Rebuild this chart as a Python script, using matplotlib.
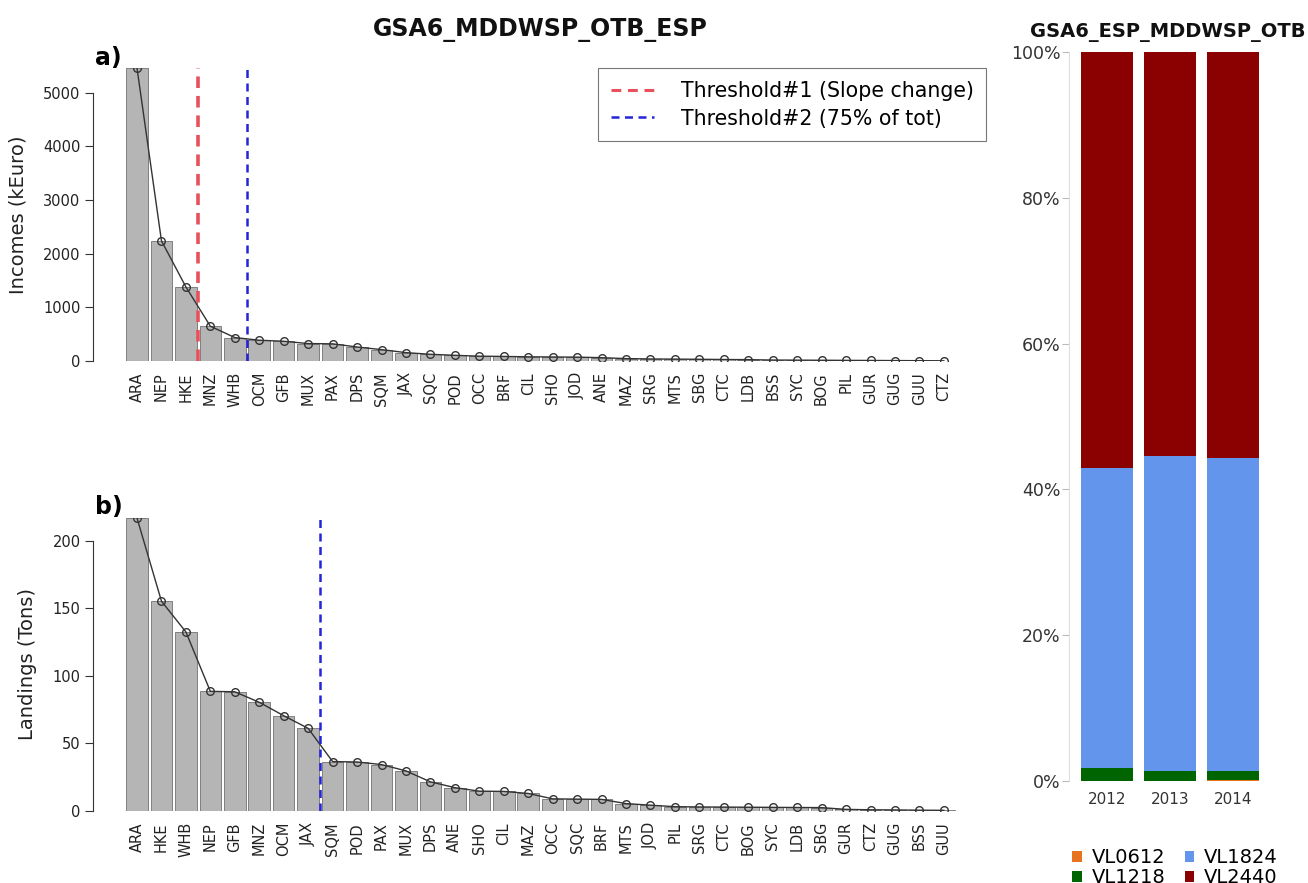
import matplotlib
matplotlib.use("Agg")
import matplotlib.pyplot as plt
from matplotlib.lines import Line2D
from matplotlib.patches import Patch
import numpy as np

plt.rcParams['font.family'] = ['DejaVu Sans']

# ---------------- data ----------------
species_a = ["ARA", "NEP", "HKE", "MNZ", "WHB", "OCM", "GFB", "MUX", "PAX", "DPS",
             "SQM", "JAX", "SQC", "POD", "OCC", "BRF", "CIL", "SHO", "JOD", "ANE",
             "MAZ", "SRG", "MTS", "SBG", "CTC", "LDB", "BSS", "SYC", "BOG", "PIL",
             "GUR", "GUG", "GUU", "CTZ"]
incomes = [5460, 2240, 1380, 648, 437, 387, 368, 325, 320, 261,
           212, 156, 125, 106, 90, 85, 78, 75, 72, 62,
           45, 38, 35, 32, 28, 25, 18, 16, 14, 12,
           10, 8, 6, 4]

species_b = ["ARA", "HKE", "WHB", "NEP", "GFB", "MNZ", "OCM", "JAX", "SQM", "POD",
             "PAX", "MUX", "DPS", "ANE", "SHO", "CIL", "MAZ", "OCC", "SQC", "BRF",
             "MTS", "JOD", "PIL", "SRG", "CTC", "BOG", "SYC", "LDB", "SBG", "GUR",
             "CTZ", "GUG", "BSS", "GUU"]
landings = [217, 155.4, 132.6, 88.6, 88.3, 80.5, 70.6, 61.2, 36.6, 36.3,
            34.4, 29.7, 21.6, 17.3, 14.7, 14.5, 13.0, 9.0, 8.8, 8.6,
            5.5, 4.3, 3.2, 3.0, 2.9, 2.8, 2.7, 2.6, 2.5, 1.2,
            0.9, 0.8, 0.6, 0.5]

thr1_a = 2.5   # slope change (between HKE and MNZ)
thr2_a = 4.5   # 75% of total (between WHB and OCM)
thr2_b = 7.5   # 75% of total (between JAX and SQM)

years = ["2012", "2013", "2014"]
fleet_segments = ["VL0612", "VL1218", "VL1824", "VL2440"]
seg_colors = ["#E8731E", "#006400", "#6495ED", "#8B0000"]
share_VL0612 = [0.03, 0.03, 0.12]
share_VL1218 = [1.75, 1.35, 1.25]
share_VL1824 = [41.2, 43.2, 42.9]
share_VL2440 = [100 - a - b - c for a, b, c in zip(share_VL0612, share_VL1218, share_VL1824)]

# ---------------- figure ----------------
W, H = 1308, 883
fig = plt.figure(figsize=(W / 100, H / 100), dpi=100)


def px_axes(x0, y0, x1, y1):
    """axes from pixel box (left, top, right, bottom)"""
    return fig.add_axes([x0 / W, 1 - y1 / H, (x1 - x0) / W, (y1 - y0) / H])


bar_face = "#b5b5b5"
bar_edge = "#808080"
pitch = 24.45
c0 = 137.0
ax_left_px, ax_right_px = 93, 962
xl = ((ax_left_px - c0) / pitch, (ax_right_px - c0) / pitch)
dash = (0, (3.2, 2.2))


def panel(ax, names, vals, ticks, ylabel, thresholds):
    x = np.arange(len(names))
    ax.bar(x, vals, width=0.88, color=bar_face, edgecolor=bar_edge, linewidth=0.7, zorder=1)
    ax.plot(x, vals, color="#333333", lw=1.0, zorder=3)
    ax.plot(x, vals, linestyle="none", marker="o", ms=5.5, mfc="none", mec="#333333", mew=1.0, zorder=4)
    for xv, col, lw in thresholds:
        ax.axvline(xv, ymin=0, ymax=1, color=col, lw=lw, linestyle=dash, zorder=5)
    ax.set_xlim(*xl)
    ax.set_ylim(0, max(vals))
    ax.set_xticks(x)
    ax.set_xticklabels(names, rotation=90, fontsize=10.5)
    ax.tick_params(axis="x", length=0, pad=8)
    ax.set_yticks(ticks)
    ax.tick_params(axis="y", length=6, width=0.8, colors="#333333", labelsize=10.5, pad=3)
    for s in ["top", "right", "bottom"]:
        ax.spines[s].set_visible(False)
    ax.spines["left"].set_bounds(ticks[0], ticks[-1])
    ax.spines["left"].set_color("#333333")
    ax.spines["left"].set_linewidth(0.8)
    ax.set_ylabel(ylabel, fontsize=14, color="#222222", labelpad=11)
    for lab in ax.get_xticklabels() + ax.get_yticklabels():
        lab.set_color("#222222")


red = "#E8505C"
blue = "#2424D8"

ax_a = px_axes(ax_left_px, 68, ax_right_px, 361)
panel(ax_a, species_a, incomes, [0, 1000, 2000, 3000, 4000, 5000], "Incomes (kEuro)",
      [(thr1_a, red, 2.6), (thr2_a, blue, 1.8)])

handles = [Line2D([0], [0], color=red, lw=2.2, linestyle=dash),
           Line2D([0], [0], color=blue, lw=1.8, linestyle=dash)]
leg = ax_a.legend(handles, ["Threshold#1 (Slope change)", "Threshold#2 (75% of tot)"],
                  loc="upper left", bbox_to_anchor=(598 / W, 1 - 68 / H), bbox_transform=fig.transFigure,
                  fontsize=14.8, frameon=True, fancybox=False, handlelength=2.1,
                  handletextpad=1.3, borderpad=0.62, labelspacing=0.38, borderaxespad=0)
leg.get_frame().set_edgecolor("#555555")
leg.get_frame().set_linewidth(0.8)

ax_b = px_axes(ax_left_px, 518, ax_right_px, 811)
panel(ax_b, species_b, landings, [0, 50, 100, 150, 200], "Landings (Tons)",
      [(thr2_b, blue, 1.8)])

fig.text(540 / W, 1 - 30 / H, "GSA6_MDDWSP_OTB_ESP", ha="center", va="center",
         fontsize=17, fontweight="bold", color="#111111")
fig.text(95 / W, 1 - 58 / H, "a)", ha="left", va="center", fontsize=17, fontweight="bold")
fig.text(95 / W, 1 - 507 / H, "b)", ha="left", va="center", fontsize=17, fontweight="bold")

# ---------------- right stacked panel ----------------
ax_r = px_axes(1069, 52, 1271, 781)
xr = np.arange(1, len(years) + 1)
bottom = np.zeros(len(years))
for seg, col, vals in zip(fleet_segments, seg_colors,
                          [share_VL0612, share_VL1218, share_VL1824, share_VL2440]):
    ax_r.bar(xr, vals, bottom=bottom, width=0.83, color=col, edgecolor="none", label=seg)
    bottom = bottom + np.array(vals)
ax_r.set_xlim(0.4, 3.6)
ax_r.set_ylim(0, 100)
ax_r.set_yticks([0, 20, 40, 60, 80, 100])
ax_r.set_yticklabels(["0%", "20%", "40%", "60%", "80%", "100%"])
ax_r.set_xticks(xr)
ax_r.set_xticklabels(years)
ax_r.tick_params(axis="y", length=5, width=0.8, colors="#bbbbbb", labelcolor="#333333", labelsize=12.5, pad=1)
ax_r.tick_params(axis="x", length=0, labelcolor="#333333", labelsize=11, pad=8)
for s in ["top", "right", "bottom"]:
    ax_r.spines[s].set_visible(False)
ax_r.spines["left"].set_color("#dddddd")
ax_r.spines["left"].set_linewidth(0.8)
fig.text(1168 / W, 1 - 33 / H, "GSA6_ESP_MDDWSP_OTB", ha="center", va="center",
         fontsize=14, fontweight="bold", color="#111111")

rh = [Patch(facecolor=c, edgecolor="none") for c in seg_colors]
lg2 = fig.legend(rh, fleet_segments, loc="upper left", ncol=2,
                 bbox_to_anchor=(1072 / W, 1 - 848 / H), bbox_transform=fig.transFigure,
                 frameon=False, fontsize=14, handlelength=0.5, handleheight=0.5,
                 handletextpad=0.5, columnspacing=1.0, labelspacing=0.05, borderaxespad=0, borderpad=0)

fig.savefig("out.png", dpi=100)
